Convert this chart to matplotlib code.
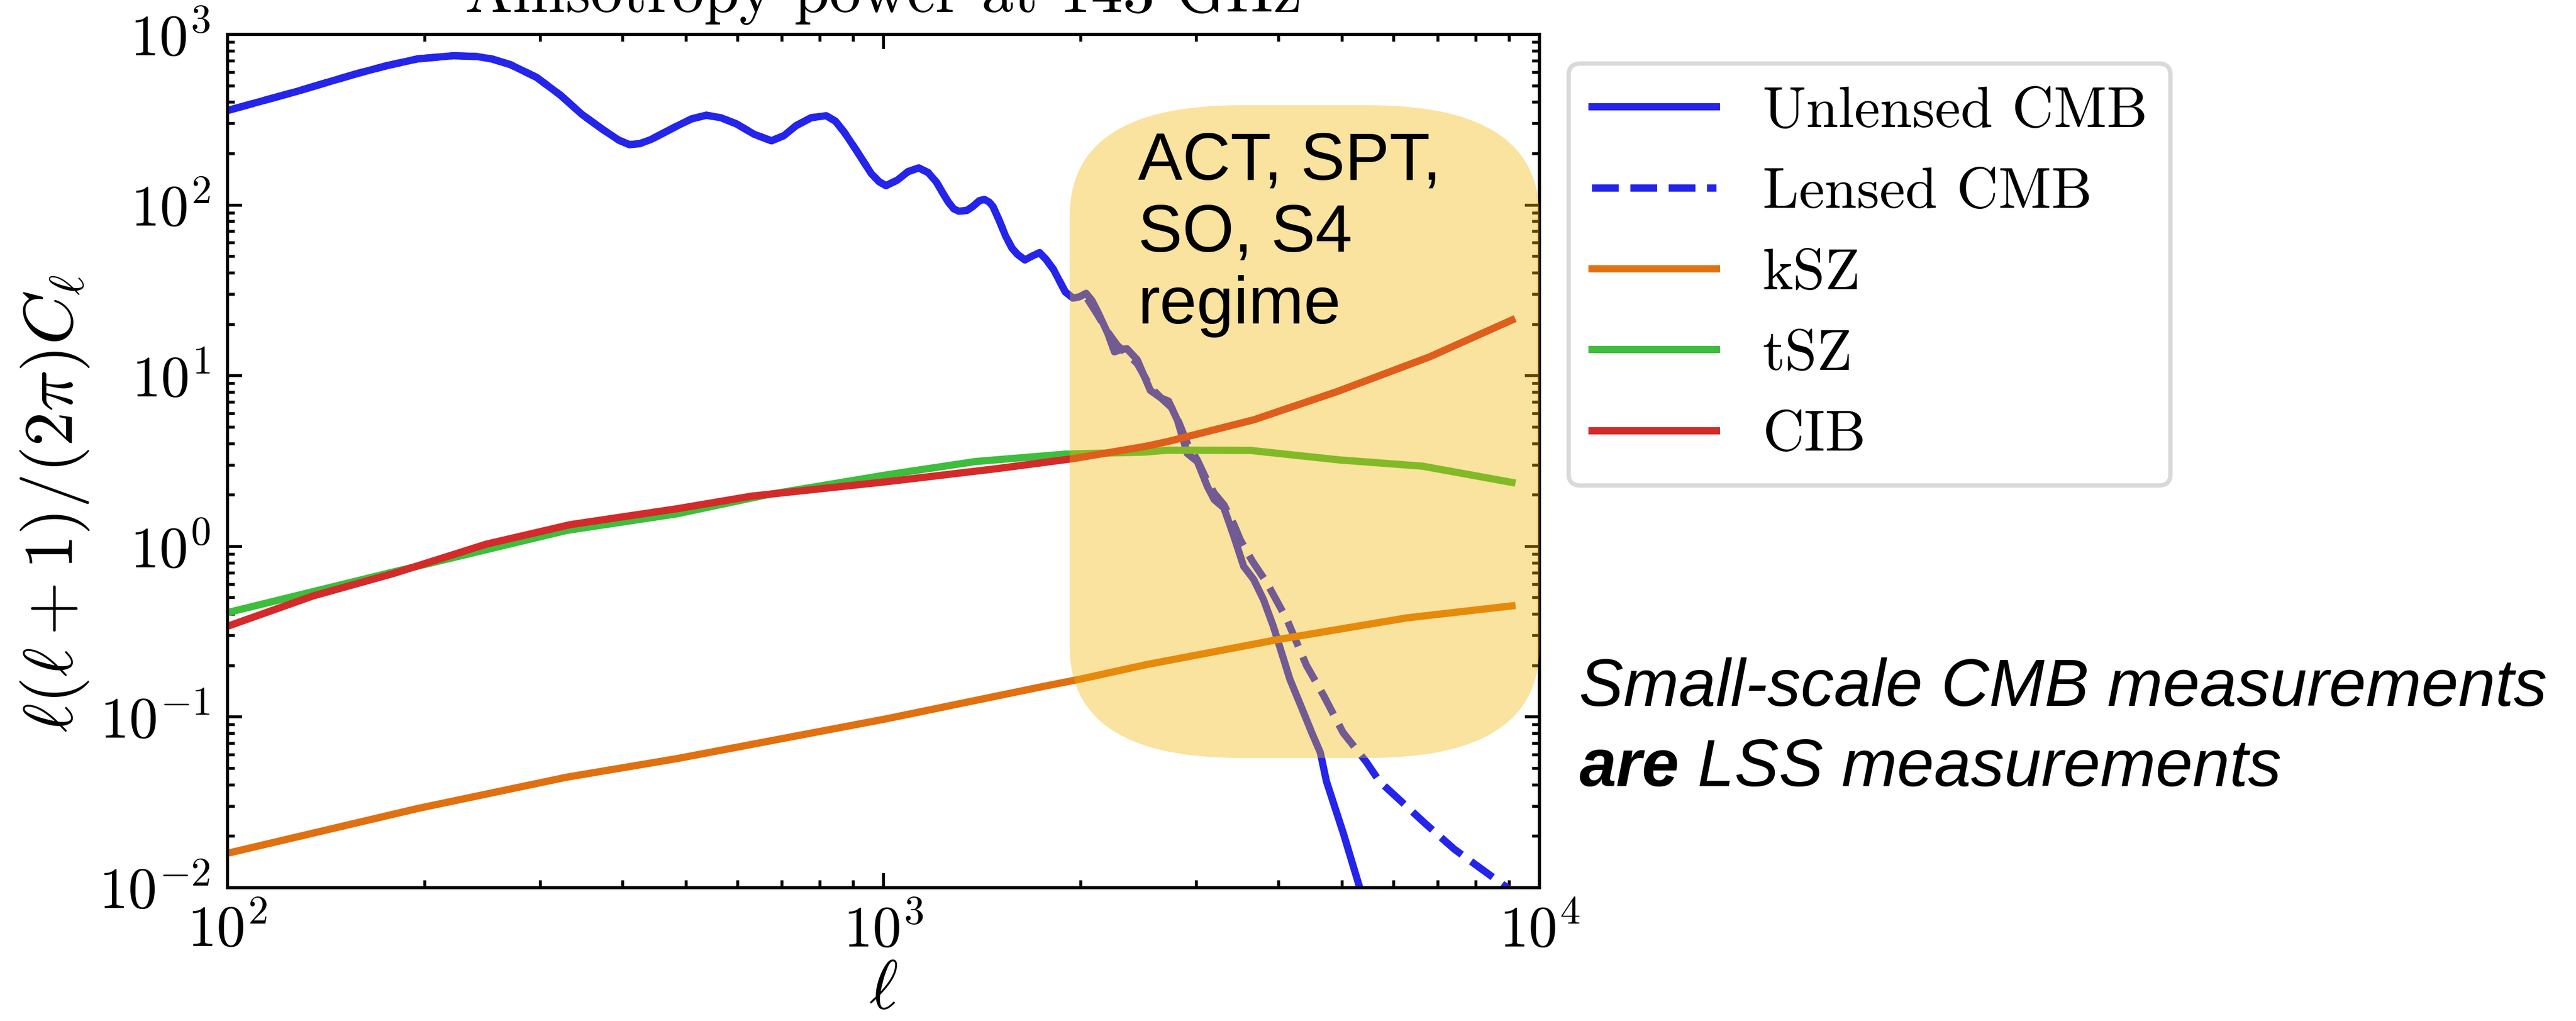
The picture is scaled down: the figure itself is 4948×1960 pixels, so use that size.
import numpy as np
import matplotlib.pyplot as plt
from matplotlib.patches import FancyBboxPatch
from matplotlib.ticker import NullFormatter

plt.rcParams.update({
    "font.family": "serif",
    "font.serif": ["cmr10"],
    "mathtext.fontset": "cm",
    "axes.formatter.use_mathtext": True,
    "axes.unicode_minus": False,
})

# D_ell = ell(ell+1) C_ell / 2pi at 143 GHz
# lensed and unlensed agree below ell ~ 2000
ell_low = [100, 128, 142, 158, 175, 195, 221, 240, 253, 270, 296, 322, 347, 373, 395,
           410, 425, 442, 484, 510, 537, 565, 597, 635, 675, 705, 736, 776, 818, 845,
           871, 908, 958, 985, 1009, 1050, 1090, 1132, 1170, 1205, 1231, 1256, 1280,
           1303, 1340, 1368, 1400, 1425, 1450, 1469, 1500, 1535, 1570, 1600, 1643,
           1690, 1730, 1770, 1816, 1893, 1945, 1990]
dl_low = [358, 465, 524, 591, 656, 719, 750, 742, 718, 665, 560, 440, 340, 278, 240,
          226, 229, 242, 290, 320, 336, 325, 299, 260, 238, 255, 292, 325, 334, 310,
          268, 211, 153, 137, 130, 140, 157, 165, 155, 136, 118, 104, 95,
          92, 93, 98, 106, 108, 104, 98, 82, 66, 56, 51.5, 47.7,
          50.5, 52.6, 48, 42, 31, 28.5, 29]

ell_unlensed_tail = [2037, 2080, 2117, 2198, 2250, 2300, 2350, 2437, 2552, 2650, 2720,
                     2806, 2906, 3010, 3118, 3193, 3304, 3420, 3541, 3667, 3796, 3930,
                     4166, 4367, 4497, 4634, 4735, 5025, 5310, 5600]
dl_unlensed_tail = [30.4, 27.5, 24.1, 17.7, 13.8, 14.2, 14.4, 12.4, 8.2, 7.4, 7.1,
                    5.5, 3.5, 3.14, 2.24, 1.88, 1.68, 1.15, 0.764, 0.641, 0.488, 0.340,
                    0.166, 0.107, 0.081, 0.062, 0.042, 0.0208, 0.0103, 0.005]

ell_lensed_tail = [2037, 2117, 2198, 2275, 2350, 2437, 2552, 2650, 2750, 2806, 2906,
                   3010, 3118, 3193, 3304, 3420, 3500, 3650, 3843, 4121, 4416, 4687,
                   5020, 5447, 5703, 6686, 7418, 8836, 9080]
dl_lensed_tail = [29, 23, 18, 15, 13.5, 11.8, 8.6, 7.4, 6.5, 5.6, 4.0,
                  3.2, 2.4, 2.05, 1.75, 1.35, 1.09, 0.82, 0.61, 0.373, 0.2, 0.134,
                  0.081, 0.0545, 0.042, 0.0239, 0.0168, 0.0103, 0.0095]

ell_ksz = [100, 195, 329, 484, 1009, 1737, 2000, 2505, 4027, 6281, 9080]
dl_ksz = [0.0159, 0.0291, 0.0444, 0.057, 0.0975, 0.150, 0.167, 0.202, 0.286, 0.381, 0.448]

ell_tsz = [100, 175, 329, 484, 662, 1009, 1380, 1893, 2505, 2704, 3623, 4955, 6637, 9080]
dl_tsz = [0.409, 0.693, 1.24, 1.55, 2.0, 2.62, 3.14, 3.47, 3.57, 3.66, 3.65, 3.21, 2.95, 2.37]

ell_cib = [100, 135, 179, 248, 333, 484, 630, 1009, 1486, 1951, 2505, 2704, 3666, 4907,
           6803, 9080]
dl_cib = [0.34, 0.512, 0.693, 1.03, 1.34, 1.66, 1.97, 2.39, 2.85, 3.27, 3.85, 4.10, 5.51,
          8.05, 12.9, 21.2]

fig = plt.figure(figsize=(12.37, 4.9), dpi=400)
ax = fig.add_axes([0.0883, 0.1306, 0.5093, 0.8357])

lw = 2.5
ax.plot(ell_low + ell_unlensed_tail, dl_low + dl_unlensed_tail, color="#2424EB", lw=lw,
        label="Unlensed CMB")
ax.plot(ell_low + ell_lensed_tail, dl_low + dl_lensed_tail, color="#2424EB", lw=lw,
        ls="--", label="Lensed CMB")
ax.plot(ell_ksz, dl_ksz, color="#E07010", lw=lw, label="kSZ")
ax.plot(ell_tsz, dl_tsz, color="#3DBE3D", lw=lw, label="tSZ")
ax.plot(ell_cib, dl_cib, color="#D42A2A", lw=lw, label="CIB")

ax.set_xscale("log")
ax.set_yscale("log")
ax.set_xlim(1e2, 1e4)
ax.set_ylim(1e-2, 1e3)
ax.xaxis.set_minor_formatter(NullFormatter())
ax.yaxis.set_minor_formatter(NullFormatter())

ax.tick_params(which="both", direction="in", top=True, right=True, labelsize=20)
ax.tick_params(which="major", length=5, width=1.0, pad=6)
ax.tick_params(which="minor", length=2.5, width=1.0)
for s in ax.spines.values():
    s.set_linewidth(1.1)

ax.set_title("Anisotropy power at 143 GHz", fontsize=22, pad=7.7)
ax.set_xlabel(r"$\ell$", fontsize=24)
ax.set_ylabel(r"$\ell(\ell+1)/(2\pi)C_\ell$", fontsize=24)
ax.xaxis.set_label_coords(0.5, -0.085)
ax.yaxis.set_label_coords(-0.104, 0.45)

# shaded high-ell region, drawn over the curves
box = FancyBboxPatch((0.642, 0.152), 0.358, 0.765,
                     boxstyle="round,pad=0,rounding_size=0.13",
                     transform=ax.transAxes, facecolor="#F2B503", edgecolor="none",
                     alpha=0.38, zorder=3, clip_on=False)
ax.add_patch(box)
ax.text(0.694, 0.887, "ACT, SPT,\nSO, S4\nregime", transform=ax.transAxes,
        fontsize=23, family="Liberation Sans", ha="left", va="top", zorder=5)

leg = ax.legend(loc="upper left", bbox_to_anchor=(0.609, 0.9378),
                bbox_transform=fig.transFigure, borderaxespad=0, fontsize=20,
                handlelength=2.15, fancybox=True, framealpha=1, labelspacing=0.5)
leg.get_frame().set_edgecolor("#d9d9d9")
leg.get_frame().set_linewidth(1.5)

fig.text(0.613, 0.3087, "Small-scale CMB measurements", fontsize=23,
         family="Liberation Sans", style="italic", va="baseline")
t_are = fig.text(0.613, 0.2301, "are", fontsize=23, family="Liberation Sans",
                 style="italic", weight="bold", va="baseline")
fig.canvas.draw()
bb = t_are.get_window_extent(renderer=fig.canvas.get_renderer())
x_next = fig.transFigure.inverted().transform((bb.x1, bb.y0))[0]
fig.text(x_next, 0.2301, " LSS measurements", fontsize=23, family="Liberation Sans",
         style="italic", va="baseline")

fig.savefig("out.png", dpi=400)
